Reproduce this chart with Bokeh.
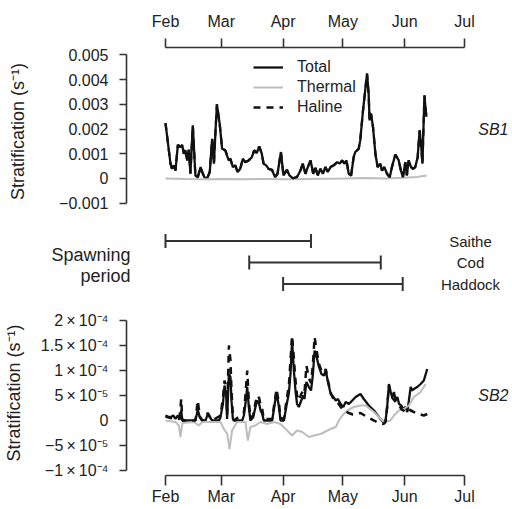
import numpy as np
from bokeh.plotting import figure
from bokeh.layouts import column
from bokeh.models import Range1d, FixedTicker, Legend, LegendItem
from bokeh.embed import file_html
from bokeh.resources import INLINE
from bokeh.core.properties import value

# ---------------- data (x = days since 1 Feb) ----------------
month_names = ["Feb", "Mar", "Apr", "May", "Jun", "Jul"]
month_days = [0, 28, 59, 89, 120, 150]

sb1_ticks = [-0.001, 0.0, 0.001, 0.002, 0.003, 0.004, 0.005]
sb1_tick_labels = ["\u22120.001", "0", "0.001", "0.002", "0.003", "0.004", "0.005"]
sb2_ticks = [-1e-4, -5e-5, 0.0, 5e-5, 1e-4, 1.5e-4, 2e-4]
sb2_tick_labels = ["\u22121\u2009\u00d7\u200910\u207b\u2074", "\u22125\u2009\u00d7\u200910\u207b\u2075", "0",
                   "5\u2009\u00d7\u200910\u207b\u2075", "1\u2009\u00d7\u200910\u207b\u2074",
                   "1.5\u2009\u00d7\u200910\u207b\u2074", "2\u2009\u00d7\u200910\u207b\u2074"]

# SB1 total stratification (units 1e-3 s^-1)
sb1_day = [0, 2.5, 3.3, 4.2, 5, 6.2, 7.5, 8.4, 9.2, 10, 10.9, 11.7, 12.5, 13.7, 15, 16.2, 17.6, 18.4,
           19.5, 20.9, 22.2, 23.4, 24.3, 25.1, 25.8, 27.2, 28.4, 30, 31.7, 32.5, 33.8, 35, 36.2, 37.5,
           38.8, 40, 41.7, 43.3, 44.5, 45.8, 47, 48.3, 49.2, 50.5, 51.7, 53.4, 55, 56.2, 57.9, 59.2,
           60.9, 62.2, 63.9, 65.9, 67.6, 68.9, 70.2, 71.4, 72.8, 74.1, 75.2, 76.4, 77.7, 79, 80.2,
           81.4, 82.8, 84.4, 86.1, 87.4, 88.6, 89.8, 90.8, 91.9, 93.1, 94.4, 95.2, 96.9, 97.7, 99.1,
           101.1, 101.9, 102.4, 103.1, 104.1, 105.3, 106.4, 107.8, 108.6, 109.8, 111.1, 112.5, 113.6,
           115.3, 117, 118.1, 119.1, 120.3, 121.1, 122, 123.2, 124.2, 125.3, 126.5, 127.5, 128.2,
           128.9, 129.9, 130.4, 130.9]
sb1_total_e3 = [2.24, 0.6, 0.39, 0.53, 0.32, 1.36, 1.27, 1.36, 1.0, 1.14, 0.73, 1.16, 0.19, 2.15, 0.12,
                0.05, 0.46, 0.26, 0.05, 0.0, 0.26, 1.6, 0.6, 1.95, 3.0, 2.2, 1.2, 1.14, 0.73, 0.8, 0.46,
                0.53, 0.26, 0.39, 0.8, 0.66, 0.73, 0.86, 1.14, 1.03, 1.3, 1.0, 0.6, 0.53, 0.39, 0.35,
                0.05, 0.19, 1.07, 0.12, 0.35, 0.12, 0.0, 0.05, 0.3, 0.6, 0.19, 0.46, 0.73, 0.19, 0.43,
                0.12, 0.39, 0.19, 0.46, 0.26, 0.46, 0.53, 0.66, 0.6, 0.73, 0.6, 0.73, 0.19, 0.12, 0.86,
                1.07, 1.2, 1.54, 2.76, 4.24, 3.43, 2.35, 2.62, 2.08, 1.0, 0.46, 0.6, 0.32, 0.46, 0.19,
                0.05, 0.46, 0.97, 0.73, 0.32, 0.05, 0.66, 0.12, 0.73, 0.46, 0.39, 0.46, 0.86, 1.95,
                1.4, 0.6, 3.36, 2.9, 2.49]
# haline stratification at SB1 coincides with the total (thermal ~ 0)
sb1_haline_e3 = [2.24, 0.6, 0.39, 0.53, 0.32, 1.36, 1.27, 1.36, 1.0, 1.14, 0.73, 1.16, 0.19, 2.15, 0.12,
                 0.05, 0.46, 0.26, 0.05, 0.0, 0.26, 1.6, 0.6, 1.95, 3.0, 2.2, 1.2, 1.14, 0.73, 0.8, 0.46,
                 0.53, 0.26, 0.39, 0.8, 0.66, 0.73, 0.86, 1.14, 1.03, 1.3, 1.0, 0.6, 0.53, 0.39, 0.35,
                 0.05, 0.19, 1.07, 0.12, 0.35, 0.12, 0.0, 0.05, 0.3, 0.6, 0.19, 0.46, 0.73, 0.19, 0.43,
                 0.12, 0.39, 0.19, 0.46, 0.26, 0.46, 0.53, 0.66, 0.6, 0.73, 0.6, 0.73, 0.19, 0.12, 0.86,
                 1.07, 1.2, 1.54, 2.76, 4.24, 3.43, 2.35, 2.62, 2.08, 1.0, 0.46, 0.6, 0.32, 0.46, 0.19,
                 0.05, 0.46, 0.97, 0.73, 0.32, 0.05, 0.66, 0.12, 0.73, 0.46, 0.39, 0.46, 0.86, 1.95,
                 1.4, 0.6, 3.36, 2.9, 2.49]
sb1_thermal_day = [0, 10, 20, 30, 40, 50, 60, 70, 80, 90, 100, 110, 120, 126, 131]
sb1_thermal_e3 = [0.0, -0.02, -0.03, -0.02, -0.03, -0.02, -0.03, -0.02, -0.01, 0.0, 0.02, 0.0, 0.03,
                  0.06, 0.12]

# SB2 (units 1e-5 s^-1)
sb2_day = [0, 1.2, 2.5, 3.9, 5, 6.2, 7, 7.9, 8.4, 15, 16.2, 17.2, 18.4, 20.1, 21.2, 22.2, 23.4, 26.8,
           27.6, 28.8, 29.6, 30.4, 30.9, 31.8, 32.6, 33.1, 33.8, 34.3, 38.5, 39.3, 40.1, 41, 41.8,
           42.6, 44, 45.1, 46, 47, 47.7, 48.5, 49.3, 53.5, 54.3, 55.7, 56.9, 57.7, 59.4, 60.7, 61.9,
           62.7, 63.5, 64.4, 65.2, 66.0, 66.9, 68.1, 69.1, 69.7, 70.7, 71.9, 73.0, 73.9, 74.8, 75.8,
           77.0, 78.2, 79.5, 80.4, 81.5, 82.9, 84.2, 85.4, 86.5, 87.9, 89.2, 90.4, 92.0, 93.7, 95.4,
           97.8, 99.5, 102.0, 104.6, 107.1, 109.3, 110.4, 111.2, 112.1, 112.9, 113.8, 114.6, 115.5,
           116.3, 117.2, 118.3, 119.3, 120.5, 121.3, 122.1, 123.0, 123.8, 124.6, 126.3, 128.0,
           129.6, 131.3]
sb2_total_e5 = [1.0, 0.8, 0.67, 1.0, 0.33, 1.0, 0.13, 2.0, 0, 0, 2.1, 0.67, 0, 0, 1.33, 0.67, 0, 0,
                0.67, 3.3, 7.0, 5.3, 0.3, 9.3, 8.7, 4.0, 0.33, 0, 0, 1.0, 3.3, 6.7, 2.67, 0, 0.67,
                2.67, 4.0, 3.3, 2.0, 1.33, 0, 0, 2.0, 5.7, 2.7, 0, 0, 3.0, 5.5, 9.3, 16.0, 10.0, 6.0,
                3.3, 2.7, 4.0, 5.0, 4.3, 7.7, 6.7, 6.0, 9.0, 14.0, 12.7, 10.7, 9.3, 9.0, 10.0, 7.7,
                5.3, 4.7, 4.0, 4.3, 3.3, 2.7, 3.7, 3.3, 4.0, 4.7, 5.3, 4.3, 3.0, 2.0, 0.67, -0.33, 0,
                2.7, 7.3, 5.7, 4.7, 5.7, 4.0, 4.7, 3.3, 3.0, 2.3, 2.7, 1.67, 4.0, 6.7, 6.0, 6.3, 6.7,
                7.3, 8.0, 10.3]
sb2_haline_day = [0, 2.5, 5, 7, 7.9, 8.4, 15, 16.2, 17.2, 18.4, 21.2, 23.4, 27.6, 28.8, 29.6, 30.4,
                  30.9, 31.8, 32.6, 33.1, 33.8, 34.3, 39.3, 40.1, 41, 41.8, 42.6, 44, 45.1, 46, 47,
                  47.7, 48.5, 49.3, 53.5, 54.3, 55.7, 56.9, 57.7, 59.4, 60.7, 61.9, 62.7, 63.5, 64.4,
                  65.2, 66.0, 66.9, 68.1, 69.1, 69.7, 70.7, 71.9, 73.0, 73.9, 74.8, 75.8, 77.0, 78.2,
                  79.5, 80.4, 81.5, 82.9, 84.2, 86.5, 89.2, 92.0, 94.0, 97.8, 102.0, 104.6, 107.1,
                  109.3, 110.4, 111.2, 112.1, 112.9, 113.8, 115.5, 117.2, 118.3, 119.3, 120.5, 122.1,
                  123.0, 124.6, 126.3, 128.0, 129.6, 131.3]
sb2_haline_e5 = [0.8, 0.5, 0.3, 0.5, 4.3, 0, 0, 4.0, 0.8, 0, 1.5, 0, 1.0, 4.5, 8.0, 6.5, 1.0, 15.0,
                 12.0, 6.0, 1.0, 0, 1.5, 5.0, 10.0, 4.0, 0.5, 1.0, 3.5, 5.0, 4.5, 3.0, 2.3, 0.3, 0.3,
                 2.5, 6.3, 3.5, 0.5, 0.3, 4.0, 7.0, 12.0, 17.0, 12.5, 8.0, 5.0, 4.0, 5.3, 6.0, 5.5,
                 11.0, 8.5, 7.5, 11.0, 16.7, 14.0, 11.3, 10.0, 9.5, 10.3, 8.0, 5.5, 4.3, 3.5, 2.0,
                 1.5, 1.2, 1.5, 0.5, 0.0, -0.5, -0.7, -0.3, 2.7, 7.0, 5.7, 4.5, 3.7, 3.0, 2.3, 2.0,
                 1.7, 2.3, 2.0, 1.7, 1.3, 1.2, 1.0, 1.3]
sb2_thermal_day = [0, 5, 6.7, 7.5, 8.5, 14.2, 16.7, 18.4, 27.6, 29.3, 31, 32.1, 33.4, 35.9, 40.1, 41.3,
                   42.6, 45.1, 47.7, 51, 54.3, 57.7, 61.0, 63.5, 66.0, 68.6, 71.9, 74.4, 77.8, 82.8,
                   85.4, 87.0, 88.7, 91.2, 94.5, 97.8, 100.4, 104.6, 107.9, 109.6, 112.9, 114.6, 117.1,
                   119.6, 122.1, 124.6, 128.0, 130.5]
sb2_thermal_e5 = [0, -0.3, -1.0, -3.3, -0.5, -0.3, -1.0, -0.3, -0.3, -1.7, -2.7, -5.7, -2.0, -0.3,
                  -0.3, -4.0, -1.3, -1.0, -0.3, -0.7, -0.3, -0.7, -2.0, -3.0, -2.0, -2.3, -3.3, -3.0,
                  -2.7, -1.7, -1.3, 0, 1.0, 2.0, 2.7, 3.0, 3.0, 1.7, 0.3, -0.3, 0, 1.0, 2.0, 2.3, 3.0,
                  4.7, 5.7, 7.3]

species = ["Saithe", "Cod", "Haddock"]
spawn_start = [0, 42, 59]      # 1 Feb, 15 Mar, 1 Apr
spawn_end = [73, 108, 119]     # 15 Apr, 20 May, 31 May
species_row = [0, 1, 2]
spawning_title = ["Spawning", "period"]

# ---------------- styling / layout ----------------
FONT = "Liberation Sans"
TXT = "#222222"
AXC = "#333333"
PPD = 299.0 / 150.0          # pixels per day
FEB_PX = 165.0               # pixel of 1 Feb
AXIS_PX = 126                 # pixel of the left axis
W = 512


def day_range(left_px, right_px):
    return Range1d((left_px - FEB_PX) / PPD, (right_px - FEB_PX) / PPD)


def style_axes(p):
    for ax in p.axis:
        ax.axis_line_color = AXC
        ax.axis_line_width = 1.6
        ax.major_tick_line_color = AXC
        ax.major_tick_line_width = 1.6
        ax.minor_tick_line_color = None
        ax.major_tick_in = 0
        ax.major_label_text_font = FONT
        ax.major_label_text_font_size = "16px"
        ax.major_label_text_color = TXT
        ax.axis_label_text_font = FONT
        ax.axis_label_text_font_size = "18px"
        ax.axis_label_text_font_style = "normal"
        ax.axis_label_text_color = TXT
    p.grid.visible = False
    p.outline_line_color = None
    p.background_fill_color = None
    p.border_fill_color = None


month_overrides = {d: m for d, m in zip(month_days, month_names)}

# ---- top panel SB1 ----
p1 = figure(width=W, height=215, x_range=day_range(AXIS_PX, W), y_range=Range1d(-0.0015, 0.0053),
            output_backend="svg", toolbar_location=None, x_axis_location="above",
            min_border_left=AXIS_PX, min_border_right=0, min_border_top=47, min_border_bottom=0)
style_axes(p1)
p1.xaxis.ticker = FixedTicker(ticks=month_days)
p1.xaxis.major_label_overrides = month_overrides
p1.xaxis.bounds = (month_days[0], month_days[-1])
p1.xaxis.major_tick_out = 9
p1.xaxis.major_label_standoff = 9
p1.yaxis.ticker = FixedTicker(ticks=sb1_ticks)
p1.yaxis.major_label_overrides = {t: l for t, l in zip(sb1_ticks, sb1_tick_labels)}
p1.yaxis.bounds = (sb1_ticks[0], sb1_ticks[-1])
p1.yaxis.major_tick_out = 7
p1.yaxis.major_label_standoff = 11
p1.yaxis.axis_label = "Stratification (s\u207b\u00b9)"
p1.yaxis.axis_label_standoff = 28

r_tot = p1.line(sb1_day, np.array(sb1_total_e3) * 1e-3, line_color="#111111", line_width=2.3)
r_th = p1.line(sb1_thermal_day, np.array(sb1_thermal_e3) * 1e-3, line_color="#bdbdbd", line_width=2)
r_ha = p1.line(sb1_day, np.array(sb1_haline_e3) * 1e-3, line_color="#111111", line_width=2.3,
               line_dash="7 6")
p1.text(x=[(508 - FEB_PX) / PPD], y=[0.002], text=["SB1"], text_align="right", text_baseline="middle",
        text_font=value(FONT), text_font_size="16px", text_font_style="italic", text_color=TXT)

legend = Legend(items=[LegendItem(label="Total", renderers=[r_tot]),
                       LegendItem(label="Thermal", renderers=[r_th]),
                       LegendItem(label="Haline", renderers=[r_ha])],
                location=(127, 98), border_line_color=None, background_fill_alpha=0,
                glyph_width=30, glyph_height=20, label_height=20, label_standoff=14, spacing=0,
                padding=0, margin=0, label_text_font=FONT, label_text_font_size="16px",
                label_text_color=TXT)
p1.add_layout(legend)

# ---- middle panel: spawning periods (frame aligned with the panels) ----
p2 = figure(width=W, height=85, x_range=day_range(AXIS_PX, W), y_range=Range1d(2.767, -1.186),
            output_backend="svg", toolbar_location=None, x_axis_location=None, y_axis_location="left",
            min_border_left=AXIS_PX, min_border_right=0, min_border_top=0, min_border_bottom=0)
p2.grid.visible = False
p2.outline_line_color = None
p2.border_fill_color = None
p2.background_fill_color = None
# the left axis of this panel only carries the "Spawning period" caption
title_pos = [0.67, 1.65]
p2.yaxis.ticker = FixedTicker(ticks=title_pos)
p2.yaxis.major_label_overrides = {t: s for t, s in zip(title_pos, spawning_title)}
p2.yaxis.axis_line_color = None
p2.yaxis.major_tick_line_color = None
p2.yaxis.minor_tick_line_color = None
p2.yaxis.major_tick_in = 0
p2.yaxis.major_tick_out = 0
p2.yaxis.major_label_standoff = -4
p2.yaxis.major_label_text_font = FONT
p2.yaxis.major_label_text_font_size = "18px"
p2.yaxis.major_label_text_color = TXT

p2.segment(x0=spawn_start, y0=species_row, x1=spawn_end, y1=species_row, line_color=AXC, line_width=2)
p2.scatter(x=spawn_start + spawn_end, y=species_row + species_row, marker="dash", angle=np.pi / 2,
           size=14, line_color=AXC, line_width=2)
p2.text(x=[(470 - FEB_PX) / PPD] * 3, y=species_row, text=species, text_align="center",
        text_baseline="middle", text_font=value(FONT), text_font_size="15px", text_color=TXT)

# ---- bottom panel SB2 ----
p3 = figure(width=W, height=209, x_range=day_range(AXIS_PX, W), y_range=Range1d(-1.1e-4, 2.2e-4),
            output_backend="svg", toolbar_location=None,
            min_border_left=AXIS_PX, min_border_right=0, min_border_top=10, min_border_bottom=34)
style_axes(p3)
p3.xaxis.ticker = FixedTicker(ticks=month_days)
p3.xaxis.major_label_overrides = month_overrides
p3.xaxis.bounds = (month_days[0], month_days[-1])
p3.xaxis.major_tick_out = 10
p3.xaxis.major_label_standoff = 2
p3.yaxis.ticker = FixedTicker(ticks=sb2_ticks)
p3.yaxis.major_label_overrides = {t: l for t, l in zip(sb2_ticks, sb2_tick_labels)}
p3.yaxis.bounds = (sb2_ticks[0], sb2_ticks[-1])
p3.yaxis.major_tick_out = 7
p3.yaxis.major_label_standoff = 11
p3.yaxis.axis_label = "Stratification (s\u207b\u00b9)"
p3.yaxis.axis_label_standoff = 14

p3.line(sb2_day, np.array(sb2_total_e5) * 1e-5, line_color="#111111", line_width=2.3)
p3.line(sb2_thermal_day, np.array(sb2_thermal_e5) * 1e-5, line_color="#bdbdbd", line_width=2)
p3.line(sb2_haline_day, np.array(sb2_haline_e5) * 1e-5, line_color="#111111", line_width=2.5,
        line_dash="7 6")
p3.text(x=[(508 - FEB_PX) / PPD], y=[5e-5], text=["SB2"], text_align="right", text_baseline="middle",
        text_font=value(FONT), text_font_size="16px", text_font_style="italic", text_color=TXT)

layout = column(p1, p2, p3, spacing=0)
open("out.html", "w").write(file_html(layout, INLINE))
